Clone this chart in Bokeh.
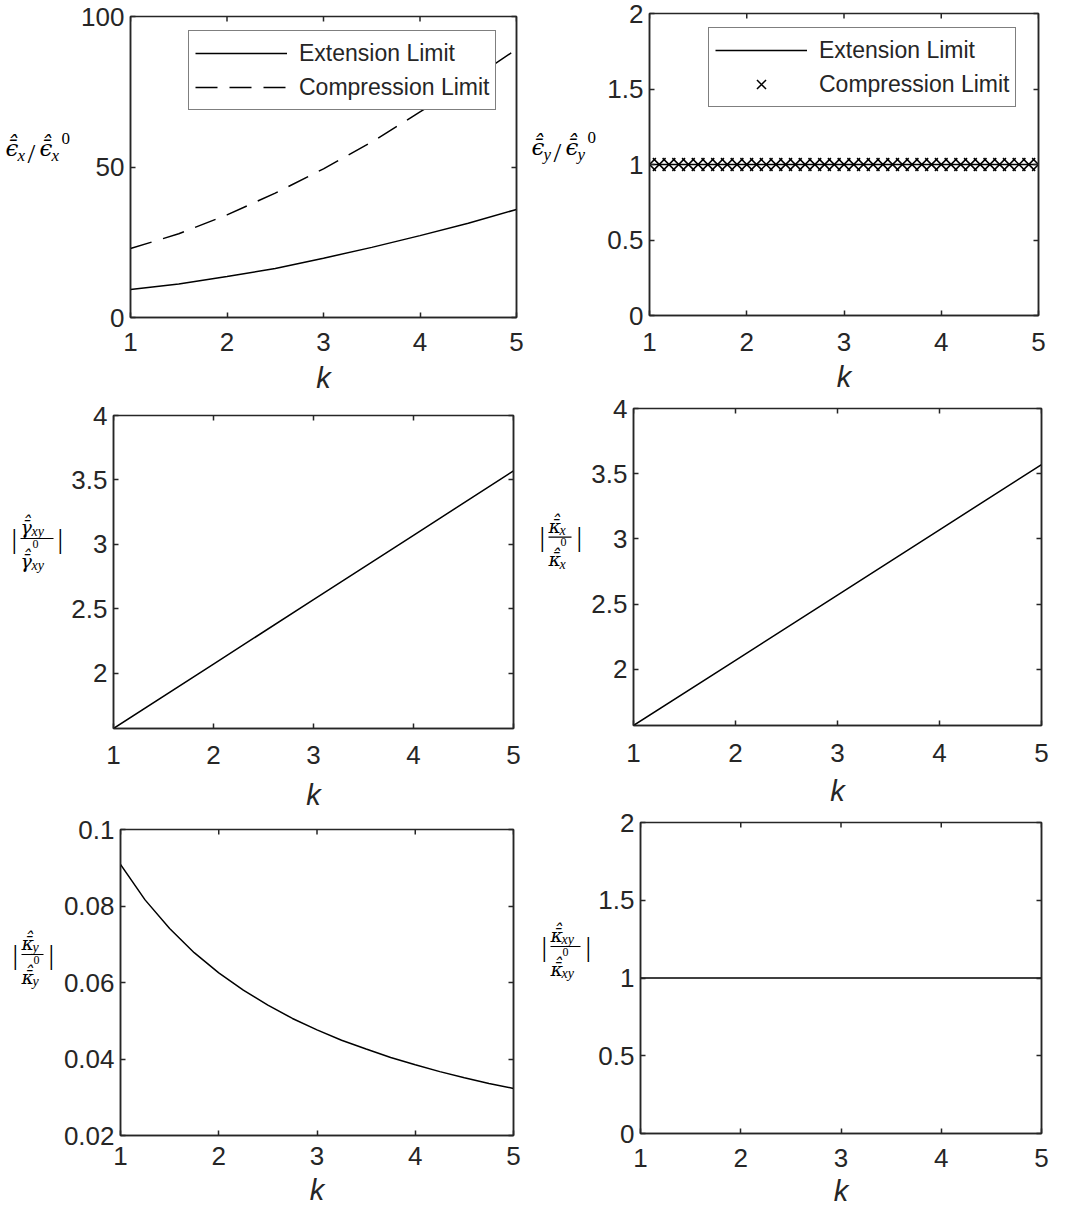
from bokeh.plotting import figure
from bokeh.layouts import row, column
from bokeh.models import (Range1d, FixedTicker, LinearAxis, Legend, LegendItem,
                          CustomJSTickFormatter, ColumnDataSource)
from bokeh.embed import file_html
from bokeh.resources import INLINE

# ---------------- data ----------------
k_ticks = [1, 2, 3, 4, 5]

# normalised x-strain limits
k_half = [1.0, 1.5, 2.0, 2.5, 3.0, 3.5, 4.0, 4.5, 5.0]
eps_x_extension = [9.3, 11.1, 13.6, 16.3, 19.7, 23.3, 27.2, 31.3, 35.9]
eps_x_compression = [22.9, 27.8, 34.1, 41.3, 49.4, 58.3, 68.3, 78.3, 89.1]

# normalised y-strain limits (sampled every 0.1 in k)
k_tenth = [1.0, 1.1, 1.2, 1.3, 1.4, 1.5, 1.6, 1.7, 1.8, 1.9,
           2.0, 2.1, 2.2, 2.3, 2.4, 2.5, 2.6, 2.7, 2.8, 2.9,
           3.0, 3.1, 3.2, 3.3, 3.4, 3.5, 3.6, 3.7, 3.8, 3.9,
           4.0, 4.1, 4.2, 4.3, 4.4, 4.5, 4.6, 4.7, 4.8, 4.9, 5.0]
eps_y_extension = [1.0, 1.0, 1.0, 1.0, 1.0, 1.0, 1.0, 1.0, 1.0, 1.0,
                   1.0, 1.0, 1.0, 1.0, 1.0, 1.0, 1.0, 1.0, 1.0, 1.0,
                   1.0, 1.0, 1.0, 1.0, 1.0, 1.0, 1.0, 1.0, 1.0, 1.0,
                   1.0, 1.0, 1.0, 1.0, 1.0, 1.0, 1.0, 1.0, 1.0, 1.0, 1.0]
eps_y_compression = [1.0, 1.0, 1.0, 1.0, 1.0, 1.0, 1.0, 1.0, 1.0, 1.0,
                     1.0, 1.0, 1.0, 1.0, 1.0, 1.0, 1.0, 1.0, 1.0, 1.0,
                     1.0, 1.0, 1.0, 1.0, 1.0, 1.0, 1.0, 1.0, 1.0, 1.0,
                     1.0, 1.0, 1.0, 1.0, 1.0, 1.0, 1.0, 1.0, 1.0, 1.0, 1.0]

# shear strain and x-curvature ratios
k_unit = [1.0, 2.0, 3.0, 4.0, 5.0]
gamma_xy_ratio = [1.57, 2.07, 2.57, 3.07, 3.57]
kappa_x_ratio = [1.57, 2.07, 2.57, 3.07, 3.57]

# y-curvature ratio
k_quarter = [1.0, 1.25, 1.5, 1.75, 2.0, 2.25, 2.5, 2.75, 3.0,
             3.25, 3.5, 3.75, 4.0, 4.25, 4.5, 4.75, 5.0]
kappa_y_ratio = [0.0909, 0.0816, 0.0741, 0.0678, 0.0625, 0.0580, 0.0541,
                 0.0506, 0.0476, 0.0449, 0.0426, 0.0404, 0.0385, 0.0367,
                 0.0351, 0.0336, 0.0323]

# twist curvature ratio
k_ends = [1.0, 5.0]
kappa_xy_ratio = [1.0, 1.0]

ticks_eps_x = [0, 50, 100]
ticks_unit = [0, 0.5, 1, 1.5, 2]
ticks_mid = [2, 2.5, 3, 3.5, 4]
ticks_kappa_y = [0.02, 0.04, 0.06, 0.08, 0.1]

# ---------------- styling ----------------
AX = "#262626"
SANS = "Liberation Sans"
MATH_G = "DejaVu Serif"      # greek symbols
MATH_L = "Liberation Serif"  # latin indices / digits
ASCENT = {MATH_G: 0.928, MATH_L: 0.891}
HATBAR = "\u0304\u0302"      # combining macron + circumflex
EPS, GAM, KAP = "\u03f5", "\u03b3", "\u03ba"
TICK_LEN = 5


def style_axis(ax, ticks, labels=True, standoff=11):
    ax.ticker = FixedTicker(ticks=ticks)
    ax.axis_line_color = AX
    ax.axis_line_width = 1.5
    ax.major_tick_line_color = AX
    ax.major_tick_line_width = 1.5
    ax.major_tick_in = TICK_LEN
    ax.major_tick_out = 0
    ax.minor_tick_line_color = None
    if labels:
        ax.formatter = CustomJSTickFormatter(
            code="return String(Math.round(tick * 1000) / 1000);")
        ax.major_label_text_font = SANS
        ax.major_label_text_font_size = "26px"
        ax.major_label_text_color = AX
        ax.major_label_standoff = standoff
    else:
        ax.formatter = CustomJSTickFormatter(code="return '';")
        ax.major_label_text_font_size = "1px"
        ax.major_label_standoff = 0


def plot_panel(w, h, left, right, top, bottom, y_lo, y_hi, y_ticks,
               tick_standoff, k_standoff):
    p = figure(title=None, width=w, height=h,
               min_border_left=left, min_border_right=right,
               min_border_top=top, min_border_bottom=bottom,
               x_range=Range1d(1, 5), y_range=Range1d(y_lo, y_hi),
               output_backend="svg", toolbar_location=None)
    p.xgrid.visible = False
    p.ygrid.visible = False
    # closed box round the axes
    p.outline_line_color = AX
    p.outline_line_width = 1.5
    p.background_fill_color = "white"
    p.border_fill_color = "white"
    style_axis(p.xaxis[0], k_ticks, standoff=tick_standoff)
    style_axis(p.yaxis[0], y_ticks, standoff=6)
    xa = p.xaxis[0]
    xa.axis_label = "k"
    xa.axis_label_text_font = SANS
    xa.axis_label_text_font_style = "italic"
    xa.axis_label_text_font_size = "29px"
    xa.axis_label_text_color = AX
    xa.axis_label_standoff = k_standoff
    right_ax = LinearAxis()
    style_axis(right_ax, y_ticks, labels=False)
    p.add_layout(right_ax, "right")
    # inward tick marks along the top edge of the box
    fh = h - top - bottom
    dy = TICK_LEN * (y_hi - y_lo) / fh
    p.segment(x0=k_ticks, y0=[y_hi] * len(k_ticks), x1=k_ticks,
              y1=[y_hi - dy] * len(k_ticks), line_color=AX, line_width=1.5)
    return p


def label_panel(page_x, w, h, frame_top, frame_bottom, pieces, bars=()):
    """Axis title strip; its frame lines up with the neighbouring plot frame,
    so data coordinates are page pixels (y grows downwards).
    Each piece is (text, left x, baseline y, size px, font, style)."""
    p = figure(title=None, width=w, height=h, min_border=0,
               x_range=Range1d(page_x, page_x + w),
               y_range=Range1d(frame_bottom, frame_top),
               x_axis_location=None, y_axis_location=None,
               output_backend="svg", toolbar_location=None)
    p.xgrid.visible = False
    p.ygrid.visible = False
    p.outline_line_color = None
    p.background_fill_color = "white"
    p.border_fill_color = "white"
    src = ColumnDataSource(dict(
        x=[q[1] for q in pieces],
        y=[q[2] - ASCENT[q[4]] * q[3] for q in pieces],
        text=[q[0] for q in pieces],
        size=[f"{q[3]}px" for q in pieces],
        font=[q[4] for q in pieces],
        style=[q[5] for q in pieces]))
    p.text(x="x", y="y", text="text", source=src, text_font="font",
           text_font_size="size", text_font_style="style",
           text_baseline="top", text_align="left", text_color="black")
    for x0, x1, yb in bars:
        p.segment(x0=[x0], y0=[yb], x1=[x1], y1=[yb], line_color="black",
                  line_width=1.2)
    return p


def slash_label(sym, idx, x, base):
    """pieces for  sym^_idx / sym^_idx^0"""
    return [
        (sym + HATBAR, x, base, 23, MATH_G, "italic"),
        (idx, x + 12, base + 5, 17, MATH_L, "italic"),
        ("/", x + 22, base + 6, 28, MATH_L, "normal"),
        (sym + HATBAR, x + 34, base, 23, MATH_G, "italic"),
        (idx, x + 46, base + 5, 17, MATH_L, "italic"),
        ("0", x + 56, base - 8, 17, MATH_L, "normal"),
    ]


def ratio_label(sym, idx, x, line_y, bar_right, right_bar):
    """pieces for  | (sym^_idx) / (sym^_idx^0) |"""
    pieces = [
        ("|", x, line_y + 9, 28, MATH_L, "normal"),
        (sym + HATBAR, x + 9, line_y - 5, 19, MATH_G, "italic"),
        (idx, x + 20, line_y - 2, 14, MATH_L, "italic"),
        ("0", x + 21, line_y + 12, 12, MATH_L, "normal"),
        (sym + HATBAR, x + 9, line_y + 29, 19, MATH_G, "italic"),
        (idx, x + 20, line_y + 32, 14, MATH_L, "italic"),
        ("|", right_bar, line_y + 9, 28, MATH_L, "normal"),
    ]
    return pieces, [(x + 9, bar_right, line_y)]


def legend(p, items, loc):
    lg = Legend(items=items, location=loc, margin=0, padding=6, spacing=2,
                label_text_font=SANS, label_text_font_size="23px",
                label_text_color=AX, glyph_width=92, glyph_height=32,
                label_height=32, label_standoff=12,
                border_line_color="black", border_line_width=1.5,
                background_fill_color="white", background_fill_alpha=1.0)
    p.add_layout(lg, "center")


# ---- panel 1: x-strain limits (page x 0..530, y 0..398, frame 16..317) ----
lab1 = label_panel(0, 78, 398, 16, 317, slash_label(EPS, "x", 5, 156))
p1 = plot_panel(452, 398, 51, 14, 16, 81, 0, 100, ticks_eps_x, 15, 8)
r_ext = p1.line(k_half, eps_x_extension, line_color="black", line_width=1.5)
r_cmp = p1.line(k_half, eps_x_compression, line_color="black", line_width=1.5,
                line_dash="22 12")
legend(p1, [LegendItem(label="Extension Limit", renderers=[r_ext]),
            LegendItem(label="Compression Limit", renderers=[r_cmp])], (58, 207))

# ---- panel 3: shear strain ratio (y 398..814, frame 415..728) ----
pc3, bars3 = ratio_label(GAM, "xy", 11, 538, 53, 57)
lab3 = label_panel(0, 64, 416, 415, 728, pc3, bars3)
p3 = plot_panel(466, 416, 49, 17, 17, 86, 1.57, 4, ticks_mid, 17, 12)
p3.line(k_unit, gamma_xy_ratio, line_color="black", line_width=1.5)

# ---- panel 5: y-curvature ratio (y 814..1210, frame 829..1135) ----
pc5, bars5 = ratio_label(KAP, "y", 12, 954, 43, 48)
lab5 = label_panel(0, 58, 396, 829, 1135, pc5, bars5)
p5 = plot_panel(472, 396, 62, 17, 15, 75, 0.02, 0.1, ticks_kappa_y, 11, 6)
p5.line(k_quarter, kappa_y_ratio, line_color="black", line_width=1.5)

# ---- panel 2: y-strain limits (page x 530..1075, y 0..395, frame 13..315) ----
lab2 = label_panel(530, 70, 395, 13, 315, slash_label(EPS, "y", 531, 155))
p2 = plot_panel(475, 395, 49, 37, 13, 80, 0, 2, ticks_unit, 17, 7)
r_ext2 = p2.line(k_tenth, eps_y_extension, line_color="black", line_width=1.5)
r_cmp2 = p2.scatter(k_tenth, eps_y_compression, marker="x", size=18,
                    line_color="black", line_width=1.5)
legend(p2, [LegendItem(label="Extension Limit", renderers=[r_ext2]),
            LegendItem(label="Compression Limit", renderers=[r_cmp2])], (59, 208))

# ---- panel 4: x-curvature ratio (y 395..809, frame 408..726) ----
pc4, bars4 = ratio_label(KAP, "x", 539, 537, 571, 576)
lab4 = label_panel(530, 55, 414, 408, 726, pc4, bars4)
p4 = plot_panel(490, 414, 48, 34, 13, 83, 1.57, 4, ticks_mid, 18, 10)
p4.line(k_unit, kappa_x_ratio, line_color="black", line_width=1.5)

# ---- panel 6: twist curvature ratio (y 809..1210, frame 822..1133) ----
pc6, bars6 = ratio_label(KAP, "xy", 541, 946, 580, 585)
lab6 = label_panel(530, 62, 401, 822, 1133, pc6, bars6)
p6 = plot_panel(483, 401, 48, 34, 13, 77, 0, 2, ticks_unit, 15, 5)
p6.line(k_ends, kappa_xy_ratio, line_color="black", line_width=1.5)

layout = row(
    column(row(lab1, p1), row(lab3, p3), row(lab5, p5)),
    column(row(lab2, p2), row(lab4, p4), row(lab6, p6)),
)
open("out.html", "w").write(file_html(layout, INLINE))
